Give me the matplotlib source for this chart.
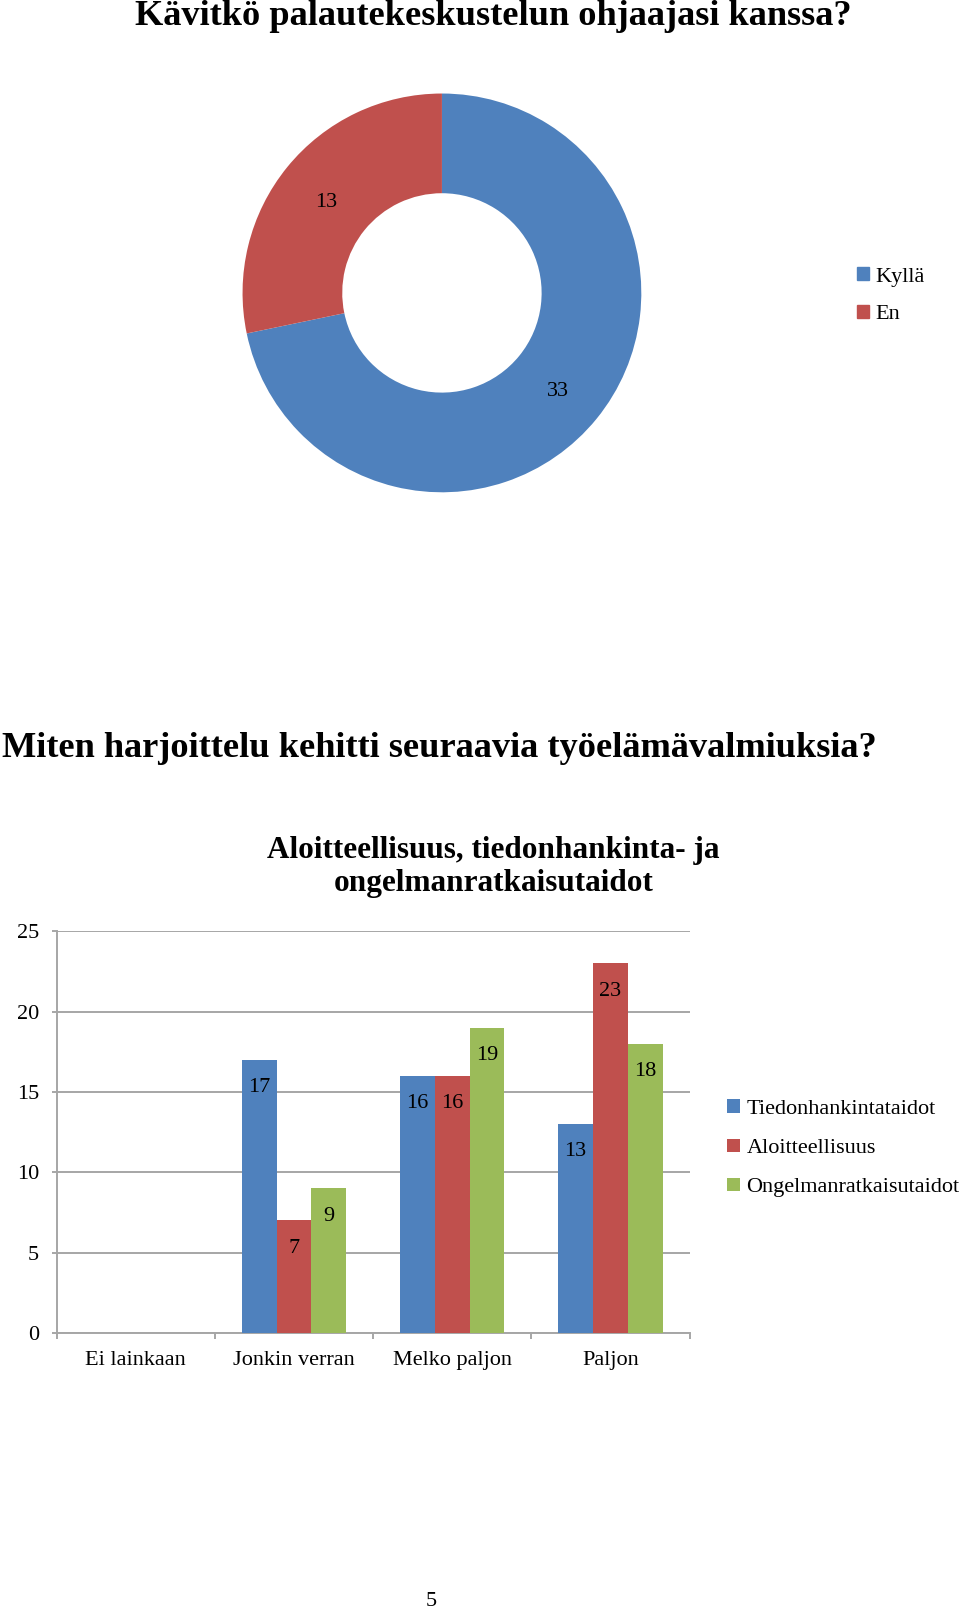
import matplotlib
matplotlib.use('Agg')
import matplotlib.pyplot as plt
import numpy as np
from matplotlib.patches import Patch

plt.rcParams['font.family'] = ['Liberation Serif', 'DejaVu Serif']

# donut data
pie_labels = ['Kyllä', 'En']
pie_values = [33, 13]

# bar data
categories = ['Ei lainkaan', 'Jonkin verran', 'Melko paljon', 'Paljon']
series_names = ['Tiedonhankintataidot', 'Aloitteellisuus', 'Ongelmanratkaisutaidot']
tiedonhankinta = [0, 17, 16, 13]
aloitteellisuus = [0, 7, 16, 23]
ongelmanratkaisu = [0, 9, 19, 18]

colours = ['#4F81BD', '#C0504D', '#9BBB59']
grid_c = '#A6A6A6'
W, H = 960, 1610
S = 1 / 0.973  # layout measured on a scaled view
fs = 16

fig = plt.figure(figsize=(W / 100, H / 100), dpi=100)


def fx(px):
    return px * S / W


def fy(py):
    return 1 - py * S / H


# --- donut ---
fig.text(fx(480), fy(16), 'Kävitkö palautekeskustelun ohjaajasi kanssa?',
         ha='center', va='center', fontsize=26.2, fontweight='bold')

cx, cy, r = 430, 285, 194
ax1 = fig.add_axes([fx(cx - r), fy(cy + r), 2 * r * S / W, 2 * r * S / H])
wedges, texts = ax1.pie(pie_values, colors=colours[:2], startangle=90, counterclock=False,
                        radius=1, labels=[str(v) for v in pie_values], labeldistance=0.75,
                        wedgeprops={'width': 0.5, 'edgecolor': 'none'},
                        textprops={'fontsize': fs})
for t in texts:
    t.set_ha('center')
    t.set_va('center')
    x, y = t.get_position()
    t.set_position((x, y - 0.02))
ax1.set_xlim(-1, 1)
ax1.set_ylim(-1, 1)
ax1.set_aspect('equal')
ax1.axis('off')

fig.legend([Patch(color=c) for c in colours[:2]], pie_labels,
           loc='upper left', bbox_to_anchor=(fx(823), fy(249)), frameon=False,
           fontsize=fs, handlelength=0.55, handleheight=0.55, handletextpad=0.3,
           labelspacing=0.82, borderpad=0)

# --- bars ---
fig.text(fx(2), fy(728), 'Miten harjoittelu kehitti seuraavia työelämävalmiuksia?',
         ha='left', va='center', fontsize=26.2, fontweight='bold')
fig.text(fx(480), fy(844), 'Aloitteellisuus, tiedonhankinta- ja\nongelmanratkaisutaidot',
         ha='center', va='center', fontsize=22.5, fontweight='bold', linespacing=1.18)

ax2 = fig.add_axes([fx(55), fy(1297), 616 * S / W, 391 * S / H])
index = np.arange(len(categories))
bar_w = 0.22
series = [tiedonhankinta, aloitteellisuus, ongelmanratkaisu]
for i, (name, vals) in enumerate(zip(series_names, series)):
    xs = index + 0.5 + (i - 1) * bar_w
    ax2.bar(xs, vals, bar_w, color=colours[i], label=name, zorder=3)
    for x, v in zip(xs, vals):
        if v > 0:
            ax2.annotate(str(v), (x, v), xytext=(0, -20), textcoords='offset points',
                         ha='center', va='center', fontsize=fs, zorder=4)

ax2.set_xlim(0, len(categories))
ax2.set_ylim(0, 25)
ax2.set_yticks(np.arange(0, 26, 5))
ax2.yaxis.grid(True, color=grid_c, linewidth=1.4, zorder=0)
ax2.set_xticks(np.arange(len(categories) + 1))
ax2.set_xticklabels([])
ax2.set_xticks(index + 0.5, minor=True)
ax2.set_xticklabels(categories, minor=True)
ax2.tick_params(axis='x', which='major', length=4, color=grid_c, width=1.4, direction='out')
ax2.tick_params(axis='x', which='minor', length=0, pad=13, labelsize=fs)
ax2.tick_params(axis='y', length=3.6, color=grid_c, width=1.4, pad=9, labelsize=fs)
for side in ['top', 'right']:
    ax2.spines[side].set_visible(False)
for side in ['left', 'bottom']:
    ax2.spines[side].set_color(grid_c)
    ax2.spines[side].set_linewidth(1.4)

fig.legend(*ax2.get_legend_handles_labels(), loc='upper left',
           bbox_to_anchor=(fx(697), fy(1059)), frameon=False, fontsize=fs,
           handlelength=0.55, handleheight=0.55, handletextpad=0.3,
           labelspacing=0.88, borderpad=0)

fig.text(fx(420), fy(1558), '5', ha='center', va='center', fontsize=fs)

fig.savefig('out.png', dpi=100)
